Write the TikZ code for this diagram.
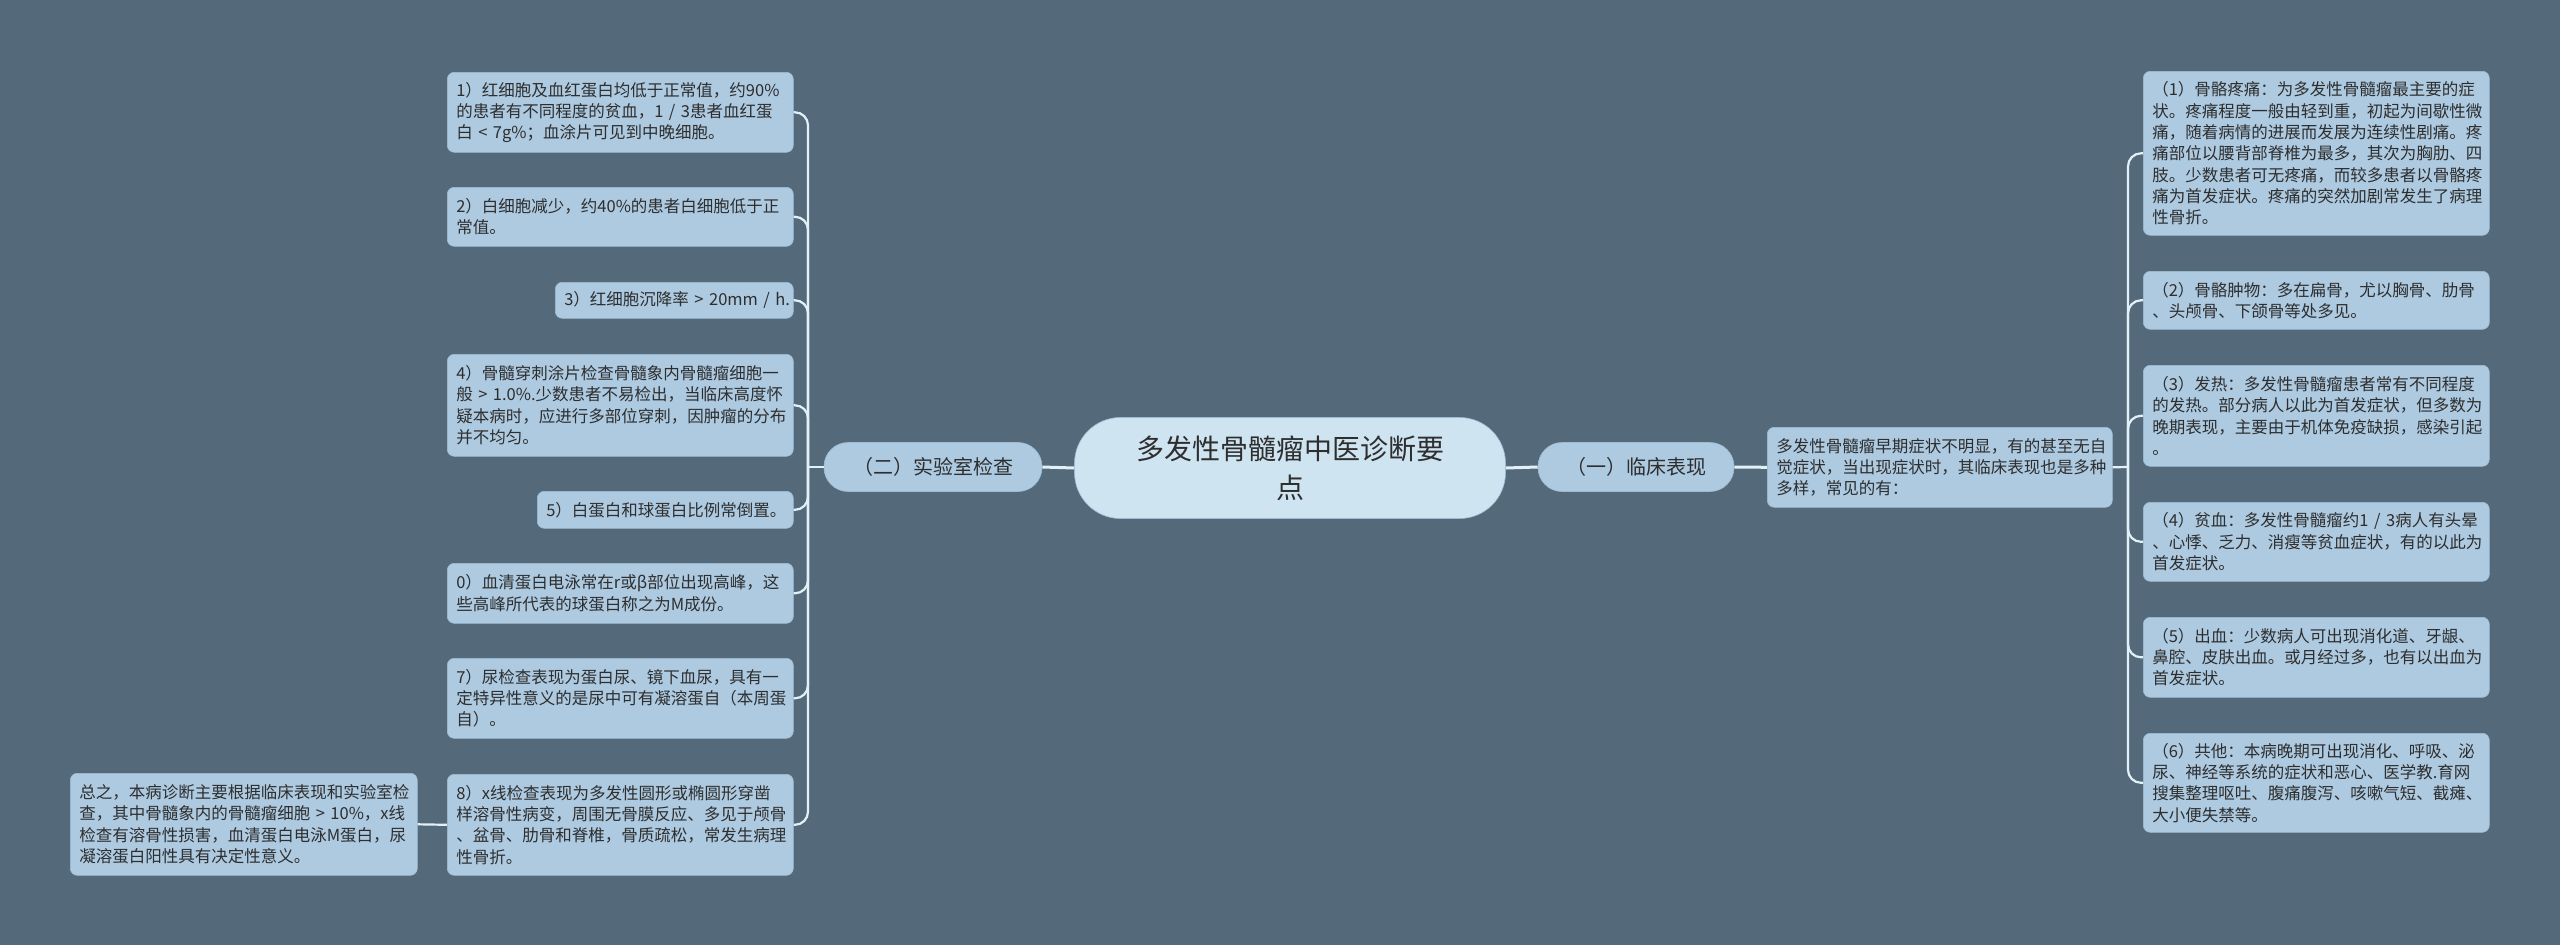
\documentclass[tikz,border=0pt]{standalone}
\usepackage{fontspec}
\setmainfont{Noto Sans CJK SC}
\definecolor{bgc}{HTML}{546A7A}
\definecolor{leafc}{HTML}{ADCAE1}
\definecolor{leafb}{HTML}{9DBCD4}
\definecolor{ctrc}{HTML}{CFE4F1}
\definecolor{linec}{HTML}{E2F0F8}
\definecolor{txtc}{HTML}{2E2E2E}
\newcommand\lfsize{\fontsize{16.5pt}{21.3pt}\selectfont}
\newcommand\mdsize{\fontsize{20pt}{26pt}\selectfont}
\newcommand\ctsize{\fontsize{28pt}{39pt}\selectfont}
\tikzset{
  leaf/.style={draw=leafb, line width=0.6pt, fill=leafc, rounded corners=7pt, inner xsep=9pt, inner ysep=0pt,
    anchor=north west, align=left, font=\lfsize, text=txtc},
  midbox/.style={draw=leafb, line width=0.6pt, fill=leafc, rounded corners=24pt, inner sep=0pt,
    minimum height=49pt, align=center, font=\mdsize, text=txtc},
  ctrbox/.style={draw=leafb, line width=0.6pt, fill=ctrc, rounded corners=46pt, inner sep=0pt,
    minimum width=431pt, minimum height=101pt, align=center, font=\ctsize, text=txtc},
  conn/.style={draw=linec, line width=3pt},
  branch/.style={draw=linec, line width=2.2pt, rounded corners=13pt}
}
\begin{document}
\begin{tikzpicture}[x=1pt,y=-1pt]
\fill[bgc] (0,0) rectangle (2560,945);
\useasboundingbox (0,0) rectangle (2560,945);

% center and main branches
\node[ctrbox] (C) at (1290,468) {多发性骨髓瘤中医诊断要\\点};
\node[midbox, minimum width=218pt] (E) at (933,467) {（二）实验室检查};
\node[midbox, minimum width=196pt] (A) at (1636,467) {（一）临床表现};
\node[leaf, text width=327pt, minimum height=80pt] (I) at (1767,427)
  {多发性骨髓瘤早期症状不明显，有的甚至无自\\觉症状，当出现症状时，其临床表现也是多种\\多样，常见的有：};

% left leaves
\node[leaf, text width=328pt, minimum height=80pt] (L1) at (447,72)
  {1）红细胞及血红蛋白均低于正常值，约90\%\\的患者有不同程度的贫血，1~/~3患者血红蛋\\白~<~7g\%；血涂片可见到中晚细胞。};
\node[leaf, text width=328pt, minimum height=59pt] (L2) at (447,187)
  {2）白细胞减少，约40\%的患者白细胞低于正\\常值。};
\node[leaf, text width=220pt, minimum height=36pt] (L3) at (555,282)
  {\mbox{3）红细胞沉降率~>~20mm~/~h.}};
\node[leaf, text width=328pt, minimum height=102pt] (L4) at (447,354)
  {4）骨髓穿刺涂片检查骨髓象内骨髓瘤细胞一\\般~>~1.0\%.少数患者不易检出，当临床高度怀\\疑本病时，应进行多部位穿刺，因肿瘤的分布\\并不均匀。};
\node[leaf, text width=238pt, minimum height=37pt] (L5) at (537,491)
  {5）白蛋白和球蛋白比例常倒置。};
\node[leaf, text width=328pt, minimum height=60pt] (L0) at (447,563)
  {0）血清蛋白电泳常在r或β部位出现高峰，这\\些高峰所代表的球蛋白称之为M成份。};
\node[leaf, text width=328pt, minimum height=80pt] (L7) at (447,658)
  {7）尿检查表现为蛋白尿、镜下血尿，具有一\\定特异性意义的是尿中可有凝溶蛋自（本周蛋\\自）。};
\node[leaf, text width=328pt, minimum height=101pt] (L8) at (447,774)
  {8）x线检查表现为多发性圆形或椭圆形穿凿\\样溶骨性病变，周围无骨膜反应、多见于颅骨\\、盆骨、肋骨和脊椎，骨质疏松，常发生病理\\性骨折。};
\node[leaf, text width=329pt, minimum height=102pt] (S) at (70,773)
  {总之，本病诊断主要根据临床表现和实验室检\\查，其中骨髓象内的骨髓瘤细胞~>~10\%，x线\\检查有溶骨性损害，血清蛋白电泳M蛋白，尿\\凝溶蛋白阳性具有决定性意义。};

% right leaves
\node[leaf, text width=328pt, minimum height=164pt] (R1) at (2143,71)
  {（1）骨骼疼痛：为多发性骨髓瘤最主要的症\\状。疼痛程度一般由轻到重，初起为间歇性微\\痛，随着病情的进展而发展为连续性剧痛。疼\\痛部位以腰背部脊椎为最多，其次为胸肋、四\\肢。少数患者可无疼痛，而较多患者以骨骼疼\\痛为首发症状。疼痛的突然加剧常发生了病理\\性骨折。};
\node[leaf, text width=328pt, minimum height=58pt] (R2) at (2143,271)
  {（2）骨骼肿物：多在扁骨，尤以胸骨、肋骨\\、头颅骨、下颌骨等处多见。};
\node[leaf, text width=328pt, minimum height=101pt] (R3) at (2143,365)
  {（3）发热：多发性骨髓瘤患者常有不同程度\\的发热。部分病人以此为首发症状，但多数为\\晚期表现，主要由于机体免疫缺损，感染引起\\。};
\node[leaf, text width=328pt, minimum height=79pt] (R4) at (2143,502)
  {（4）贫血：多发性骨髓瘤约1~/~3病人有头晕\\、心悸、乏力、消瘦等贫血症状，有的以此为\\首发症状。};
\node[leaf, text width=328pt, minimum height=80pt] (R5) at (2143,617)
  {（5）出血：少数病人可出现消化道、牙龈、\\鼻腔、皮肤出血。或月经过多，也有以出血为\\首发症状。};
\node[leaf, text width=328pt, minimum height=99pt] (R6) at (2143,733)
  {（6）共他：本病晚期可出现消化、呼吸、泌\\尿、神经等系统的症状和恶心、医学教.育网\\搜集整理呕吐、腹痛腹泻、咳嗽气短、截瘫、\\大小便失禁等。};

% junctions
\coordinate (jL) at (808,467);
\coordinate (jR) at (2128,467);

% connectors
\draw[conn] (C.west) -- (E.east);
\draw[conn] (C.east) -- (A.west);
\draw[conn] (A.east) -- (I.west);
\draw[branch] (E.west) -- (jL);
\draw[branch] (I.east) -- (jR);
\foreach \n in {L1,L2,L3,L4,L5,L0,L7,L8}{
  \draw[branch] (jL) |- (\n.east);
}
\foreach \n in {R1,R2,R3,R4,R5,R6}{
  \draw[branch] (jR) |- (\n.west);
}
\draw[branch] (L8.west) -- (S.east);
\end{tikzpicture}
\end{document}
